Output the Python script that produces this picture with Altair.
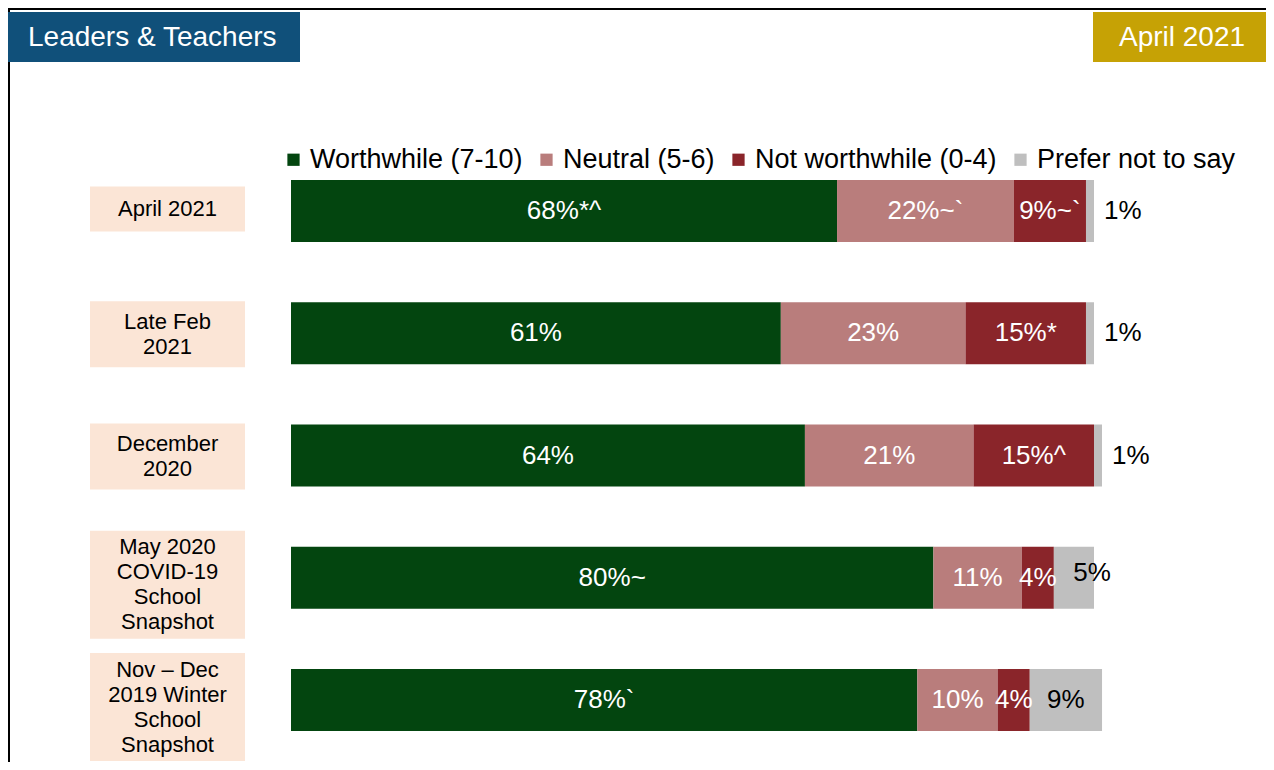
import altair as alt
import pandas as pd

# ---------------- data ----------------
rows = ["April 2021", "Late Feb 2021", "December 2020", "May 2020", "Nov-Dec 2019"]
row_labels = [
    "April 2021",
    "Late Feb\n2021",
    "December\n2020",
    "May 2020\nCOVID-19\nSchool\nSnapshot",
    "Nov \u2013 Dec\n2019 Winter\nSchool\nSnapshot",
]
categories = ["Worthwhile (7-10)", "Neutral (5-6)", "Not worthwhile (0-4)", "Prefer not to say"]
colors = ["#03450F", "#B97D7C", "#8A252A", "#BFBFBF"]

worthwhile = [68, 61, 64, 80, 78]
neutral = [22, 23, 21, 11, 10]
not_worthwhile = [9, 15, 15, 4, 4]
prefer_not = [1, 1, 1, 5, 9]

worthwhile_marks = ["*^", "", "", "~", "`"]
neutral_marks = ["~`", "", "", "", ""]
not_worthwhile_marks = ["~`", "*", "^", "", ""]
prefer_not_marks = ["", "", "", "", ""]

header_left = "Leaders & Teachers"
header_right = "April 2021"

# ---------------- tables ----------------
series = [worthwhile, neutral, not_worthwhile, prefer_not]
marks = [worthwhile_marks, neutral_marks, not_worthwhile_marks, prefer_not_marks]
recs = []
for i, r in enumerate(rows):
    for j, c in enumerate(categories):
        v = series[j][i]
        recs.append({"row": r, "i": i, "cat": c, "ord": j, "v": v,
                     "label": f"{v}%{marks[j][i]}"})
df = pd.DataFrame(recs)
box_df = pd.DataFrame({"row": rows, "i": list(range(len(rows))), "label": row_labels})

W, H = 1258, 754
FONT = "Liberation Sans"
PREF = categories[3]
PX_PER_PCT = 8.03
X0_PX = 283
STEP = 122.25
Y0_PX = 203
BAR_HALF = 31 / STEP
LINE_H = 25

x_lo = -X0_PX / PX_PER_PCT
x_hi = x_lo + W / PX_PER_PCT
y_lo = -Y0_PX / STEP
y_hi = y_lo + H / STEP

xscale = alt.Scale(domain=[x_lo, x_hi], nice=False, zero=False)
yscale = alt.Scale(domain=[y_lo, y_hi], nice=False, zero=False, reverse=True)

# ---------------- stacked bars + labels ----------------
bars = alt.Chart().mark_rect().encode(
    x=alt.X("start:Q", scale=xscale, axis=None),
    x2="cum:Q",
    y=alt.Y("y0:Q", scale=yscale, axis=None),
    y2="y1:Q",
    color=alt.Color(
        "cat:N",
        scale=alt.Scale(domain=categories, range=colors),
        legend=alt.Legend(
            title=None,
            orient="none",
            legendX=272,
            legendY=138,
            direction="horizontal",
            symbolType="square",
            symbolSize=150,
            labelFontSize=27,
            labelFont=FONT,
            labelColor="black",
            columnPadding=10,
            labelOffset=3,
            labelLimit=400,
        ),
    ),
)

white_labels = alt.Chart().transform_filter(f"datum.cat != '{PREF}'").mark_text(
    color="white", fontSize=26, font=FONT, baseline="middle", align="center"
).encode(
    x=alt.X("mid:Q", scale=xscale, axis=None),
    y=alt.Y("i:Q", scale=yscale, axis=None),
    text="label:N",
)

grey_mid = alt.Chart().transform_filter(f"datum.cat == '{PREF}' && datum.v >= 7").mark_text(
    color="black", fontSize=26, font=FONT, baseline="middle", align="center"
).encode(
    x=alt.X("mid:Q", scale=xscale, axis=None),
    y=alt.Y("i:Q", scale=yscale, axis=None),
    text="label:N",
)

grey_end = alt.Chart().transform_filter(
    f"datum.cat == '{PREF}' && datum.v >= 3 && datum.v < 7"
).mark_text(
    color="black", fontSize=26, font=FONT, baseline="middle", align="center", dx=-2, dy=-5
).encode(
    x=alt.X("cum:Q", scale=xscale, axis=None),
    y=alt.Y("i:Q", scale=yscale, axis=None),
    text="label:N",
)

grey_out = alt.Chart().transform_filter(f"datum.cat == '{PREF}' && datum.v < 3").mark_text(
    color="black", fontSize=26, font=FONT, baseline="middle", align="left", dx=10
).encode(
    x=alt.X("cum:Q", scale=xscale, axis=None),
    y=alt.Y("i:Q", scale=yscale, axis=None),
    text="label:N",
)

data_layer = alt.layer(bars, white_labels, grey_mid, grey_end, grey_out, data=df).transform_stack(
    stack="v", groupby=["row"], as_=["start", "cum"], sort=[alt.SortField("ord")], offset="zero"
).transform_calculate(
    mid="(datum.start + datum.cum) / 2",
    y0=f"datum.i - {BAR_HALF}",
    y1=f"datum.i + {BAR_HALF}",
)

# ---------------- row label boxes ----------------
boxes = alt.Chart().mark_rect(color="#FBE5D6").encode(
    x=alt.value(82),
    x2=alt.value(237),
    y=alt.Y("b0:Q", scale=yscale, axis=None),
    y2="b1:Q",
)

box_text = alt.Chart().mark_text(
    lineBreak="\n", fontSize=22, lineHeight=LINE_H, font=FONT, color="black",
    align="center", baseline="middle",
).encode(
    x=alt.value(159.5),
    y=alt.Y("ty:Q", scale=yscale, axis=None),
    text="label:N",
)

box_layer = alt.layer(boxes, box_text, data=box_df).transform_calculate(
    lines="length(split(datum.label, '\\n'))"
).transform_calculate(
    yc=f"datum.i + ((datum.lines - 1) * 3 - 2) / {STEP}",
    half=f"(21 * datum.lines + 24) / 2 / {STEP}",
).transform_calculate(
    b0="datum.yc - datum.half",
    b1="datum.yc + datum.half",
    ty=f"datum.yc - (datum.lines - 1) * {LINE_H / 2} / {STEP}",
)

# ---------------- frame and header tabs ----------------
one = pd.DataFrame({"left": [header_left], "right": [header_right]})
border_top = alt.Chart(one).mark_rect(color="black").encode(
    x=alt.value(0), x2=alt.value(W), y=alt.value(0), y2=alt.value(2)
)
border_left = alt.Chart(one).mark_rect(color="black").encode(
    x=alt.value(0), x2=alt.value(2), y=alt.value(0), y2=alt.value(H)
)
hdr_l_rect = alt.Chart(one).mark_rect(color="#10507A").encode(
    x=alt.value(0), x2=alt.value(292), y=alt.value(4), y2=alt.value(54)
)
hdr_l_text = alt.Chart(one).mark_text(
    color="white", fontSize=28, font=FONT, align="left", baseline="middle"
).encode(x=alt.value(20), y=alt.value(30), text="left:N")
hdr_r_rect = alt.Chart(one).mark_rect(color="#C6A205").encode(
    x=alt.value(1085), x2=alt.value(W), y=alt.value(4), y2=alt.value(54)
)
hdr_r_text = alt.Chart(one).mark_text(
    color="white", fontSize=28, font=FONT, align="center", baseline="middle"
).encode(x=alt.value(1174), y=alt.value(30), text="right:N")

chart = alt.layer(
    border_top, border_left, hdr_l_rect, hdr_l_text, hdr_r_rect, hdr_r_text,
    box_layer, data_layer,
).properties(
    width=W, height=H,
    autosize=alt.AutoSizeParams(type="fit", contains="padding"),
    padding=0,
).configure_view(stroke=None)

chart.save("out.html", embed_options={"renderer": "svg", "actions": False})
